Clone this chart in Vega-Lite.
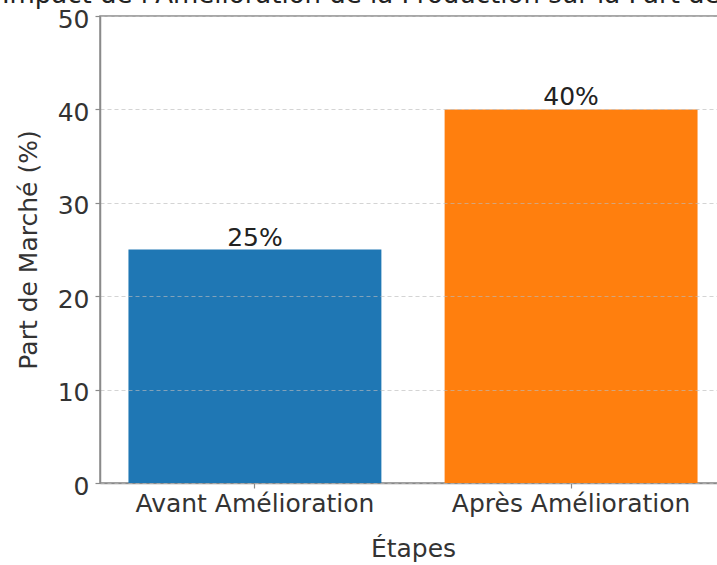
{
  "$schema": "https://vega.github.io/schema/vega-lite/v6.json",
  "autosize": {"type": "none"},
  "width": 626,
  "height": 467,
  "padding": {"left": 100, "top": 16, "right": -9, "bottom": 82},
  "title": {
    "text": "Impact de l'Amélioration de la Production sur la Part de Marché",
    "fontSize": 26,
    "fontWeight": "normal",
    "font": "DejaVu Sans",
    "offset": -1,
    "anchor": "middle",
    "color": "#222222"
  },
  "config": {
    "font": "DejaVu Sans",
    "view": {"stroke": "#8a8a8a", "strokeWidth": 1.5}
  },
  "data": {
    "values": [
      {"etape": "Avant Amélioration", "part": 25, "label": "25%"},
      {"etape": "Après Amélioration", "part": 40, "label": "40%"}
    ]
  },
  "encoding": {
    "x": {
      "field": "etape",
      "type": "nominal",
      "sort": null,
      "title": "Étapes",
      "scale": {"paddingInner": 0.2, "paddingOuter": 0.09},
      "axis": {
        "labelAngle": 0,
        "labelLimit": 0,
        "labelFontSize": 25,
        "labelColor": "#333333",
        "labelPadding": 3,
        "titleFontSize": 25,
        "titleFontWeight": "normal",
        "titleColor": "#333333",
        "titlePadding": 20,
        "domainColor": "#8a8a8a",
        "domainWidth": 1.5,
        "tickColor": "#8a8a8a",
        "tickSize": 5,
        "tickWidth": 1.2,
        "grid": false
      }
    }
  },
  "layer": [
    {
      "mark": {"type": "bar"},
      "encoding": {
        "y": {
          "field": "part",
          "type": "quantitative",
          "title": "Part de Marché (%)",
          "scale": {"domain": [0, 50], "nice": false},
          "axis": {
            "values": [0, 10, 20, 30, 40, 50],
            "zindex": 1,
            "labelFontSize": 25,
            "labelColor": "#333333",
            "labelPadding": 6,
            "labelOffset": 3,
            "titleFontSize": 25,
            "titleFontWeight": "normal",
            "titleColor": "#333333",
            "titlePadding": 16,
            "domainColor": "#8a8a8a",
            "domainWidth": 1.5,
            "tickColor": "#8a8a8a",
            "tickSize": 5,
            "tickWidth": 1.2,
            "grid": true,
            "gridColor": "#bbbbbb",
            "gridDash": [4, 3],
            "gridWidth": 0.8,
            "gridOpacity": 0.8
          }
        },
        "color": {
          "field": "etape",
          "type": "nominal",
          "sort": null,
          "scale": {"range": ["#1f77b4", "#ff7f0e"]},
          "legend": null
        }
      }
    },
    {
      "mark": {"type": "text", "baseline": "bottom", "dy": 1, "fontSize": 25, "color": "#222222"},
      "encoding": {
        "y": {"field": "part", "type": "quantitative"},
        "text": {"field": "label"}
      }
    }
  ]
}
